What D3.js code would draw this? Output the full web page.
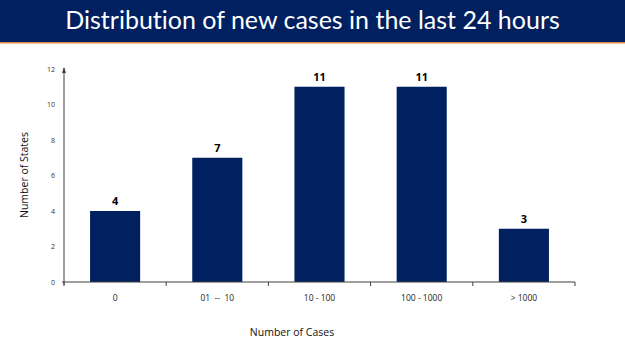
<!DOCTYPE html>
<html>
<head>
<meta charset="utf-8">
<script src="https://cdn.jsdelivr.net/npm/d3@7"></script>
<style>
  body { margin: 0; background: #fff; }
  svg { display: block; font-family: "Open Sans", sans-serif; }
</style>
</head>
<body>
<div id="chart"></div>
<script>
// chart values
let categories = ["0", "01  --  10", "10 - 100", "100 - 1000", "> 1000"];
let states = [4, 7, 11, 11, 3];
let yTicks = [0, 2, 4, 6, 8, 10, 12];

let width = 625, height = 351;
let margin = { top: 69, right: 50, bottom: 69, left: 64 };
let innerW = 575 - margin.left;
let innerH = 282 - margin.top;

let svg = d3.select("#chart").append("svg")
    .attr("width", width)
    .attr("height", height);

// header band
svg.append("rect")
    .attr("x", 0).attr("y", 0)
    .attr("width", width).attr("height", 42)
    .attr("fill", "#002060");
svg.append("rect")
    .attr("x", 0).attr("y", 42)
    .attr("width", width).attr("height", 1.5)
    .attr("fill", "#e0894a");
svg.append("text")
    .attr("x", width / 2).attr("y", 29)
    .attr("text-anchor", "middle")
    .attr("fill", "#fff")
    .style("font-family", "Lato, sans-serif")
    .style("font-size", "25px")
    .style("font-variant-ligatures", "none")
    .text("Distribution of new cases in the last 24 hours");

let g = svg.append("g")
    .attr("transform", "translate(" + margin.left + "," + margin.top + ")");

let x = d3.scaleBand()
    .domain(categories)
    .range([0, innerW])
    .paddingInner(0.51)
    .paddingOuter(0.255);

let y = d3.scaleLinear()
    .domain([0, 12])
    .range([innerH, 0]);

// bars
g.selectAll(".bar")
    .data(states)
    .join("rect")
    .attr("class", "bar")
    .attr("x", (d, i) => x(categories[i]))
    .attr("y", d => y(d))
    .attr("width", x.bandwidth())
    .attr("height", d => innerH - y(d))
    .attr("fill", "#002060");

// value labels
g.selectAll(".val")
    .data(states)
    .join("text")
    .attr("class", "val")
    .attr("x", (d, i) => x(categories[i]) + x.bandwidth() / 2)
    .attr("y", d => y(d) - 6)
    .attr("text-anchor", "middle")
    .style("font-size", "11px")
    .style("font-weight", "bold")
    .attr("fill", "#000")
    .text(d => d);

// x axis line + ticks at band boundaries
let step = innerW / categories.length;
g.append("line")
    .attr("x1", -2).attr("x2", innerW)
    .attr("y1", innerH).attr("y2", innerH)
    .attr("stroke", "#404040").attr("stroke-width", 1);
g.selectAll(".xtick")
    .data(d3.range(categories.length + 1))
    .join("line")
    .attr("class", "xtick")
    .attr("x1", d => d * step).attr("x2", d => d * step)
    .attr("y1", innerH).attr("y2", innerH + 4)
    .attr("stroke", "#404040");

g.selectAll(".xlab")
    .data(categories)
    .join("text")
    .attr("class", "xlab")
    .attr("x", d => x(d) + x.bandwidth() / 2)
    .attr("y", innerH + 19)
    .attr("text-anchor", "middle")
    .style("font-size", "8.5px")
    .attr("fill", "#222")
    .style("white-space", "pre")
    .attr("xml:space", "preserve")
    .text(d => d);

// y axis
g.append("line")
    .attr("x1", 0).attr("x2", 0)
    .attr("y1", innerH + 3).attr("y2", -1)
    .attr("stroke", "#404040");
g.append("path")
    .attr("d", "M-2,4 L0,-2 L2,4 Z")
    .attr("fill", "#404040");

g.selectAll(".ylab")
    .data(yTicks)
    .join("text")
    .attr("class", "ylab")
    .attr("x", -9)
    .attr("y", d => y(d) + 2.5)
    .attr("text-anchor", "end")
    .style("font-size", "7px")
    .attr("fill", "#333")
    .text(d => d);

// axis titles
svg.append("text")
    .attr("x", 292).attr("y", 336)
    .attr("text-anchor", "middle")
    .style("font-size", "10.5px")
    .attr("fill", "#111")
    .text("Number of Cases");
svg.append("text")
    .attr("transform", "translate(28,175) rotate(-90)")
    .attr("text-anchor", "middle")
    .style("font-size", "10.5px")
    .attr("fill", "#111")
    .text("Number of States");
</script>
</body>
</html>
